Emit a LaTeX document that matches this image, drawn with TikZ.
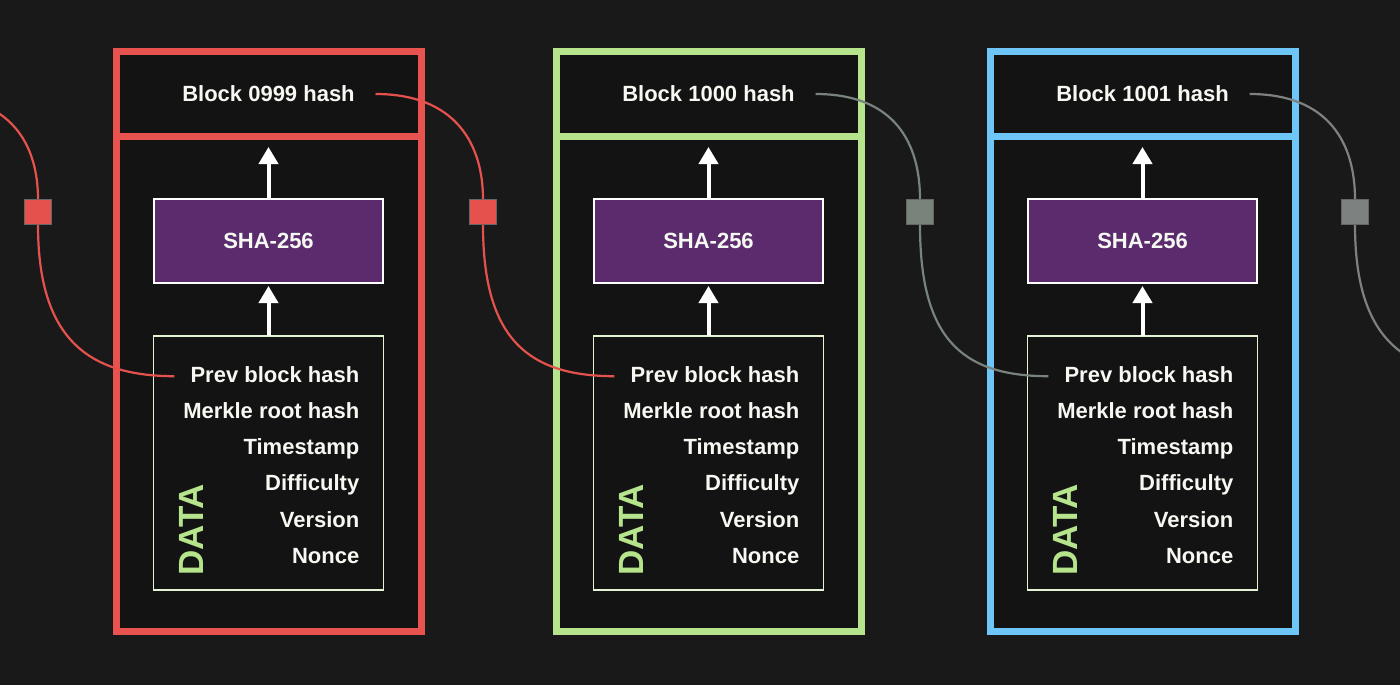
\documentclass[tikz,border=0pt]{standalone}
\usepackage{fontspec}
\setmainfont{Liberation Sans}
\usepackage{xcolor}
\usepackage{tikz}
\usetikzlibrary{arrows.meta,positioning,calc}
\definecolor{canvas}{HTML}{191919}
\definecolor{cellbg}{HTML}{131313}
\definecolor{redframe}{HTML}{E8534F}
\definecolor{greenframe}{HTML}{B5E48C}
\definecolor{blueframe}{HTML}{6EC6F8}
\definecolor{shafill}{HTML}{5B2B6E}
\definecolor{databorder}{HTML}{E4F2D6}
\definecolor{txt}{HTML}{F6F8F2}
\definecolor{linkred}{HTML}{E5524E}
\definecolor{linkgreen}{HTML}{78837C}
\definecolor{linkgray}{HTML}{7D8180}

\begin{document}
\begin{tikzpicture}[
  x=1pt, y=-1pt,
  hashbox/.style={rectangle, draw=#1, line width=7pt, fill=cellbg, outer sep=0pt, inner sep=0pt, minimum width=305pt, minimum height=84pt, text=txt, text depth=1pt, font=\fontsize{22}{26}\selectfont\bfseries},
  bodybox/.style={rectangle, draw=#1, line width=7pt, fill=cellbg, outer sep=0pt, inner sep=0pt, minimum width=305pt, minimum height=495pt},
  shabox/.style={rectangle, draw=white, line width=1.2pt, fill=shafill, outer sep=0pt, minimum width=229pt, minimum height=84pt, text=txt, text depth=1pt, font=\fontsize{22}{26}\selectfont\bfseries},
  databox/.style={rectangle, draw=databorder, line width=1.2pt, fill=cellbg, outer sep=0pt, minimum width=230pt, minimum height=254pt},
  field/.style={inner sep=0pt, anchor=north east, text height=16pt, text depth=4pt, text=txt, font=\fontsize{22}{26}\selectfont\bfseries},
  tag/.style={rotate=90, anchor=base west, inner sep=0pt, text=greenframe, font=\fontsize{35}{40}\selectfont\bfseries},
  uparrow/.style={-{Triangle[width=19pt,length=17pt]}, line width=4pt, draw=white},
  joint/.style={rectangle, fill=#1, draw=black!60, line width=0.6pt, minimum width=27pt, minimum height=25pt, inner sep=0pt},
  link/.style={draw=#1, line width=2.2pt}
]
  \fill[canvas] (0,0) rectangle (1400,685);
  \useasboundingbox (0,0) rectangle (1400,685);
  \clip (0,0) rectangle (1400,685);

  % block 0999
  \node[hashbox=redframe] (hash1) at (268.5,94) {Block 0999 hash};
  \node[bodybox=redframe, below=0pt of hash1] (body1) {};
  \node[shabox, below=63pt of hash1] (sha1) {SHA-256};
  \node[databox, below=53pt of sha1] (data1) {};
  \node[field] (prev1) at ([xshift=-24pt,yshift=-30pt]data1.north east) {Prev block hash};
  \node[field, below=15.8pt of prev1.south east, anchor=north east] (merkle1) {Merkle root hash};
  \node[field, below=15.8pt of merkle1.south east, anchor=north east] (time1) {Timestamp};
  \node[field, below=15.8pt of time1.south east, anchor=north east] (diff1) {Difficulty};
  \node[field, below=15.8pt of diff1.south east, anchor=north east] (ver1) {Version};
  \node[field, below=15.8pt of ver1.south east, anchor=north east] (nonce1) {Nonce};
  \node[tag] (tag1) at ([xshift=50pt,yshift=14pt]data1.south west) {DATA};
  \draw[uparrow, shorten >=3pt] (data1) -- (sha1);
  \draw[uparrow, shorten >=11pt] (sha1) -- (hash1.south);

  % block 1000
  \node[hashbox=greenframe] (hash2) at (708.5,94) {Block 1000 hash};
  \node[bodybox=greenframe, below=0pt of hash2] (body2) {};
  \node[shabox, below=63pt of hash2] (sha2) {SHA-256};
  \node[databox, below=53pt of sha2] (data2) {};
  \node[field] (prev2) at ([xshift=-24pt,yshift=-30pt]data2.north east) {Prev block hash};
  \node[field, below=15.8pt of prev2.south east, anchor=north east] (merkle2) {Merkle root hash};
  \node[field, below=15.8pt of merkle2.south east, anchor=north east] (time2) {Timestamp};
  \node[field, below=15.8pt of time2.south east, anchor=north east] (diff2) {Difficulty};
  \node[field, below=15.8pt of diff2.south east, anchor=north east] (ver2) {Version};
  \node[field, below=15.8pt of ver2.south east, anchor=north east] (nonce2) {Nonce};
  \node[tag] (tag2) at ([xshift=50pt,yshift=14pt]data2.south west) {DATA};
  \draw[uparrow, shorten >=3pt] (data2) -- (sha2);
  \draw[uparrow, shorten >=11pt] (sha2) -- (hash2.south);

  % block 1001
  \node[hashbox=blueframe] (hash3) at (1142.5,94) {Block 1001 hash};
  \node[bodybox=blueframe, below=0pt of hash3] (body3) {};
  \node[shabox, below=63pt of hash3] (sha3) {SHA-256};
  \node[databox, below=53pt of sha3] (data3) {};
  \node[field] (prev3) at ([xshift=-24pt,yshift=-30pt]data3.north east) {Prev block hash};
  \node[field, below=15.8pt of prev3.south east, anchor=north east] (merkle3) {Merkle root hash};
  \node[field, below=15.8pt of merkle3.south east, anchor=north east] (time3) {Timestamp};
  \node[field, below=15.8pt of time3.south east, anchor=north east] (diff3) {Difficulty};
  \node[field, below=15.8pt of diff3.south east, anchor=north east] (ver3) {Version};
  \node[field, below=15.8pt of ver3.south east, anchor=north east] (nonce3) {Nonce};
  \node[tag] (tag3) at ([xshift=50pt,yshift=14pt]data3.south west) {DATA};
  \draw[uparrow, shorten >=3pt] (data3) -- (sha3);
  \draw[uparrow, shorten >=11pt] (sha3) -- (hash3.south);

  % links between blocks
  \coordinate (hash0) at (-69,96);
  \coordinate (prev4) at (1490,375);
  \node[joint=linkred] (sq0) at (38,212) {};
  \node[joint=linkred] (sq1) at (483,212) {};
  \node[joint=linkgreen] (sq2) at (920,212) {};
  \node[joint=linkgray] (sq3) at (1355,212) {};

  \draw[link=linkred] (hash0) .. controls +(80,0) and +(0,-55) .. (sq0.north);
  \draw[link=linkred] (sq0.south) .. controls +(0,110) and +(-90,0) .. ([xshift=-16pt]prev1.west);
  \draw[link=linkred] ([xshift=107pt]hash1.center) .. controls +(80,0) and +(0,-55) .. (sq1.north);
  \draw[link=linkred] (sq1.south) .. controls +(0,110) and +(-90,0) .. ([xshift=-16pt]prev2.west);
  \draw[link=linkgreen] ([xshift=107pt]hash2.center) .. controls +(80,0) and +(0,-55) .. (sq2.north);
  \draw[link=linkgreen] (sq2.south) .. controls +(0,110) and +(-90,0) .. ([xshift=-16pt]prev3.west);
  \draw[link=linkgray] ([xshift=107pt]hash3.center) .. controls +(80,0) and +(0,-55) .. (sq3.north);
  \draw[link=linkgray] (sq3.south) .. controls +(0,110) and +(-90,0) .. (prev4);
\end{tikzpicture}
\end{document}
